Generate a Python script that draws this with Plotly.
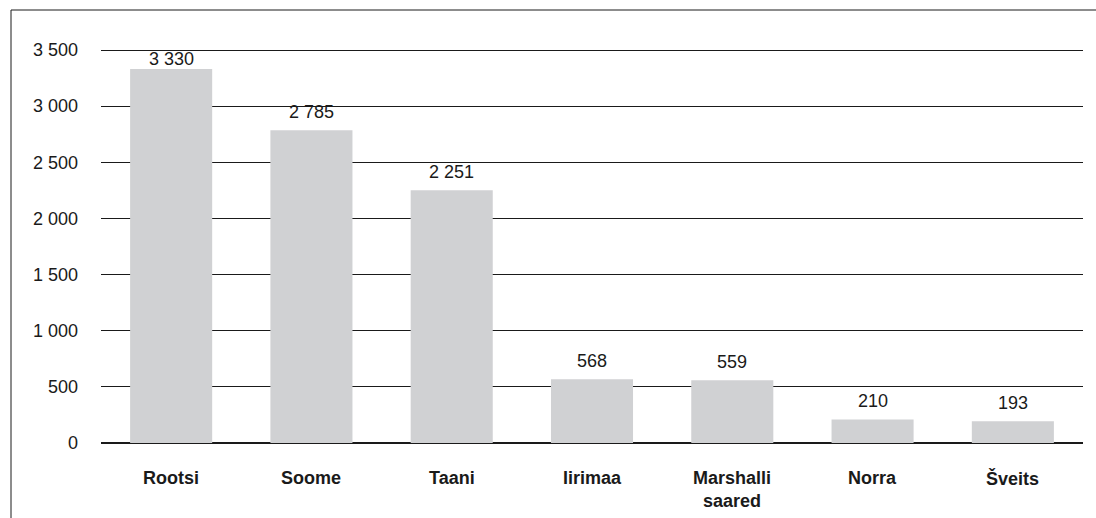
import plotly.graph_objects as go

categories = ["Rootsi", "Soome", "Taani", "Iirimaa", "Marshalli saared", "Norra", "Šveits"]
category_labels = ["Rootsi", "Soome", "Taani", "Iirimaa", "Marshalli<br>saared", "Norra", "Šveits"]
values = [3330, 2785, 2251, 568, 559, 210, 193]
tick_values = [0, 500, 1000, 1500, 2000, 2500, 3000, 3500]
tick_labels = ["0", "500", "1 000", "1 500", "2 000", "2 500", "3 000", "3 500"]
value_labels = ["3 330", "2 785", "2 251", "568", "559", "210", "193"]
label_shifts = [10, 18, 18, 18, 18, 18, 18]

FONT = "Liberation Sans, Arial, sans-serif"
TEXT = "#1a1a1a"
FS = 18

# geometry: zero line at y=443, 3500 at y=50
W, H = 1096, 518
L, R = 101, 13
zero_px, top_px = 443, 50
px_per_unit = (zero_px - top_px) / 3500
extra = 6
range_top = 3500 + extra / px_per_unit
T = top_px - extra
B = H - zero_px
plot_h = zero_px - T
plot_w = W - L - R

fig = go.Figure()
fig.add_trace(go.Bar(x=categories, y=values, marker=dict(color="#d0d1d3", line=dict(width=0)),
                     hoverinfo="skip"))

for c, v, t, s in zip(categories, values, value_labels, label_shifts):
    fig.add_annotation(x=c, y=v, text=t, showarrow=False, yanchor="middle", yshift=s,
                       font=dict(family=FONT, size=FS, color=TEXT))

for c, lab in zip(categories, category_labels):
    fig.add_annotation(x=c, y=0, xref="x", yref="y", text=f"<b>{lab}</b>", showarrow=False,
                       yanchor="top", yshift=-24, borderpad=0, align="center",
                       font=dict(family=FONT, size=FS, color=TEXT))

fig.update_layout(
    width=W, height=H,
    margin=dict(l=L, r=R, t=T, b=B, pad=0),
    paper_bgcolor="white", plot_bgcolor="white",
    bargap=0.415, showlegend=False,
    font=dict(family=FONT, size=FS, color=TEXT),
)
fig.update_yaxes(range=[0, range_top], tickvals=tick_values, ticktext=tick_labels,
                 showgrid=True, gridcolor="#1a1a1a", gridwidth=1,
                 zeroline=True, zerolinecolor="#1a1a1a", zerolinewidth=2,
                 showline=False, ticks="", ticklabelstandoff=22,
                 tickfont=dict(family=FONT, size=FS, color=TEXT), fixedrange=True)
fig.update_xaxes(showline=False, showgrid=False, ticks="", showticklabels=False, fixedrange=True)

# outer frame (top and left edges visible)
fx = (11 - L) / plot_w
fy = (H - 10 - B) / plot_h
fig.add_shape(type="line", xref="paper", yref="paper", x0=fx, x1=(W + 5 - L) / plot_w, y0=fy, y1=fy,
              line=dict(color="#1a1a1a", width=1))
fig.add_shape(type="line", xref="paper", yref="paper", x0=fx, x1=fx, y0=-(B + 5) / plot_h, y1=fy,
              line=dict(color="#1a1a1a", width=1))

fig.write_html("out.html", config={"displayModeBar": False},
               post_script="document.body.style.margin='0';document.body.style.padding='0';document.body.style.overflow='hidden';")
